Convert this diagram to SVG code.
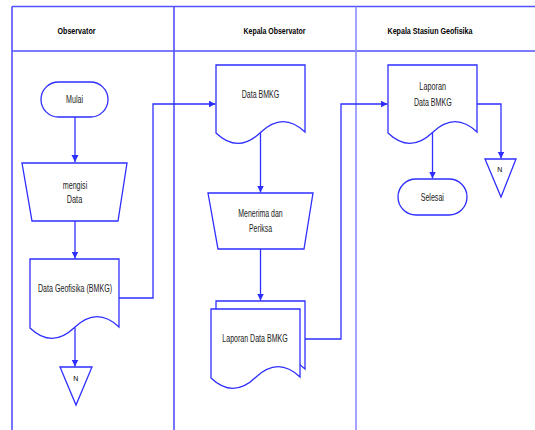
<svg xmlns="http://www.w3.org/2000/svg" width="535" height="430" viewBox="0 0 535 430">
<defs>
<style>
.lane{stroke:#5252ff;stroke-width:1.6;fill:none}
.lane2{stroke:#8c8cff;stroke-width:1.6;fill:none}
.shape{stroke:#2e2eff;stroke-width:1.3;fill:#ffffff}
.conn{stroke:#2e2eff;stroke-width:1.3;fill:none}
.hd{font-family:"Liberation Sans",Arial,sans-serif;font-size:9.5px;font-weight:bold;fill:#000;text-anchor:middle}
.tx{font-family:"Liberation Sans",Arial,sans-serif;font-size:11px;fill:#222;text-anchor:middle}
.n{font-family:"Liberation Sans",Arial,sans-serif;font-size:7px;fill:#000;text-anchor:middle}
</style>
<marker id="arr" markerUnits="userSpaceOnUse" markerWidth="8" markerHeight="8" refX="7" refY="3.5" orient="auto">
<path d="M0,0 L7,3.5 L0,7 Z" fill="#2e2eff"/>
</marker>
</defs>
<rect width="535" height="430" fill="#ffffff"/>
<g id="lanes">
<path class="lane" d="M12,6.5 H535 M12,51 H535 M12,6.5 V430 M174,6.5 V430"/>
<path class="lane2" d="M356,6.5 V430"/>
<text class="hd" x="76.5" y="33.5" textLength="38" lengthAdjust="spacingAndGlyphs">Observator</text>
<text class="hd" x="274.5" y="33.5" textLength="62" lengthAdjust="spacingAndGlyphs">Kepala Observator</text>
<text class="hd" x="430" y="33.5" textLength="85" lengthAdjust="spacingAndGlyphs">Kepala Stasiun Geofisika</text>
</g>
<g id="connectors">
<path class="conn" d="M75,117 V162" marker-end="url(#arr)"/>
<path class="conn" d="M75,221 V258.5" marker-end="url(#arr)"/>
<path class="conn" d="M75,327.5 V366.5" marker-end="url(#arr)"/>
<path class="conn" d="M119,298 H153 V104 H215.5" marker-end="url(#arr)"/>
<path class="conn" d="M260.5,133 V192.5" marker-end="url(#arr)"/>
<path class="conn" d="M260.5,249 V300.5" marker-end="url(#arr)"/>
<path class="conn" d="M305,339 H341 V104 H387.5" marker-end="url(#arr)"/>
<path class="conn" d="M477,104 H501 V158.5" marker-end="url(#arr)"/>
<path class="conn" d="M432.5,133 V178.5" marker-end="url(#arr)"/>
</g>
<g id="mulai">
<rect class="shape" x="41" y="82" width="67" height="35" rx="17.5"/>
<text class="tx" x="74.5" y="103" textLength="17" lengthAdjust="spacingAndGlyphs">Mulai</text>
</g>
<g id="mengisi-data">
<path class="shape" d="M22,163 H127 L118,221 H32 Z"/>
<text class="tx" x="75" y="189" textLength="24.5" lengthAdjust="spacingAndGlyphs">mengisi</text>
<text class="tx" x="74.5" y="203" textLength="15.5" lengthAdjust="spacingAndGlyphs">Data</text>
</g>
<g id="data-geofisika">
<path class="shape" d="M30,259 H119 V327 Q97,306 74.5,327.5 T30,328 Z"/>
<text class="tx" x="75" y="291.5" textLength="74" lengthAdjust="spacingAndGlyphs">Data Geofisika (BMKG)</text>
</g>
<g id="off-page-1">
<path class="shape" d="M60,367 H92 L76,405 Z"/>
<text class="n" x="75.7" y="381">N</text>
</g>
<g id="data-bmkg">
<path class="shape" d="M216,65 H305 V132 Q283,111 260.5,132.5 T216,133 Z"/>
<text class="tx" x="260.5" y="97.5" textLength="37.5" lengthAdjust="spacingAndGlyphs">Data BMKG</text>
</g>
<g id="menerima-periksa">
<path class="shape" d="M208,193 H313 L304,249 H218 Z"/>
<text class="tx" x="260.5" y="217.3" textLength="44.4" lengthAdjust="spacingAndGlyphs">Menerima dan</text>
<text class="tx" x="260.5" y="231.7" textLength="23" lengthAdjust="spacingAndGlyphs">Periksa</text>
</g>
<g id="laporan-data-bmkg-multi">
<path class="shape" d="M216,301 H305 V369 Q283,348 260.5,369.5 T216,370 Z"/>
<path class="shape" d="M211,309 H300 V377 Q278,356 255.5,377.5 T211,378 Z"/>
<text class="tx" x="255" y="342.3" textLength="65.4" lengthAdjust="spacingAndGlyphs">Laporan Data BMKG</text>
</g>
<g id="laporan-data-bmkg">
<path class="shape" d="M388,65 H477 V132 Q455,111 432.5,132.5 T388,133 Z"/>
<text class="tx" x="432.7" y="90" textLength="26.7" lengthAdjust="spacingAndGlyphs">Laporan</text>
<text class="tx" x="432.8" y="105.7" textLength="37.7" lengthAdjust="spacingAndGlyphs">Data BMKG</text>
</g>
<g id="selesai">
<rect class="shape" x="398" y="179" width="69" height="36" rx="18"/>
<text class="tx" x="432.3" y="200.7" textLength="23.3" lengthAdjust="spacingAndGlyphs">Selesai</text>
</g>
<g id="off-page-2">
<path class="shape" d="M485,159 H516 L501,197 Z"/>
<text class="n" x="499.7" y="172">N</text>
</g>
</svg>
